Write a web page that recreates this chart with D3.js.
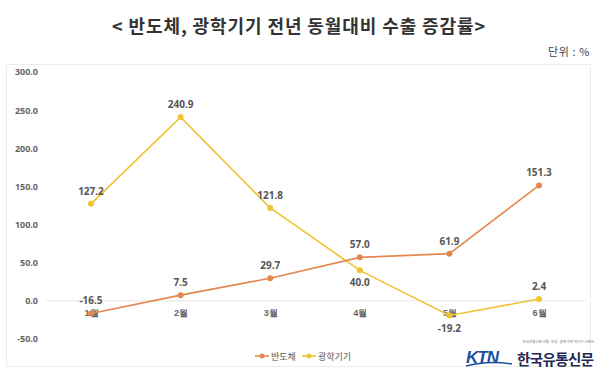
<!DOCTYPE html>
<html><head><meta charset="utf-8">
<script src="https://cdn.jsdelivr.net/npm/d3@7"></script>
<style>body{margin:0;background:#fff;}svg{display:block;font-family:"Noto Sans CJK KR","Noto Sans",sans-serif;}</style>
</head><body>
<script>
const months = ["1월","2월","3월","4월","5월","6월"];
const semiconductor = [-16.5, 7.5, 29.7, 57.0, 61.9, 151.3];
const optical = [127.2, 240.9, 121.8, 40.0, -19.2, 2.4];
const yTicks = [300, 250, 200, 150, 100, 50, 0, -50];
const seriesNames = ["반도체", "광학기기"];
// label placement: 1 = above, -1 = below
const semiPos = [1,1,1,1,1,1];
const optPos = [1,1,1,-1,-1,1];

const W = 600, H = 372;
const svg = d3.select("body").append("svg").attr("width", W).attr("height", H);
const fmt = d => d3.format(".1f")(d).replace("\u2212","-");

svg.append("text").attr("x", 299).attr("y", 33).attr("text-anchor","middle")
  .attr("font-size", 18).attr("font-weight","bold").attr("fill","#333").attr("letter-spacing", 0.9)
  .text("< 반도체, 광학기기 전년 동월대비 수출 증감률>");
svg.append("text").attr("x", 590).attr("y", 56).attr("text-anchor","end")
  .attr("font-size", 11).attr("fill","#444").attr("letter-spacing", 0.6).text("단위 : %");

// chart frame
svg.append("rect").attr("x", 6.5).attr("y", 64.5).attr("width", 584).attr("height", 302)
  .attr("fill","none").attr("stroke","#ececec");

const x = d3.scalePoint().domain(months).range([91, 539]);
const y = d3.scaleLinear().domain([-50, 300]).range([339, 72]);

// y-axis labels
const yAxis = d3.axisLeft(y).tickValues(yTicks).tickFormat(fmt).tickSize(0).tickPadding(0);
const ga = svg.append("g").attr("transform","translate(38,0)").call(yAxis);
ga.select(".domain").remove();
ga.selectAll("text").attr("font-size", 9).attr("font-weight","bold").attr("fill","#666")
  .attr("font-family","'Noto Sans','Noto Sans CJK KR',sans-serif");

// zero line
svg.append("line").attr("x1", 46).attr("x2", 586).attr("y1", y(0)).attr("y2", y(0))
  .attr("stroke","#e6e6e6").attr("stroke-width",1);

// x-axis category labels
const xAxis = d3.axisBottom(x).tickSize(0).tickPadding(0);
const gx = svg.append("g").attr("transform",`translate(0,${y(0)+9})`).call(xAxis);
gx.select(".domain").remove();
gx.selectAll("text").attr("font-size", 9).attr("fill","#666").attr("font-weight","bold");

const series = [
  {name: seriesNames[0], values: semiconductor, color: "#E4874F", pos: semiPos},
  {name: seriesNames[1], values: optical, color: "#F1C232", pos: optPos}
];
const line = d3.line().x((d,i)=>x(months[i])).y(d=>y(d));

series.slice().reverse().forEach(s => {
  svg.append("path").attr("d", line(s.values)).attr("fill","none")
    .attr("stroke", s.color).attr("stroke-width", 1.6);
  svg.selectAll(null).data(s.values).enter().append("circle")
    .attr("cx",(d,i)=>x(months[i])).attr("cy", d=>y(d)).attr("r", 3)
    .attr("fill", s.color);
});
series.forEach(s => {
  svg.selectAll(null).data(s.values).enter().append("text")
    .attr("x",(d,i)=>x(months[i]))
    .attr("y",(d,i)=> s.pos[i] > 0 ? y(d) - 9 : y(d) + 16)
    .attr("text-anchor","middle").attr("font-size", 10).attr("font-weight","bold")
    .attr("fill","#555").attr("font-family","'Noto Sans',sans-serif")
    .text(fmt);
});

// legend
const legendX = [255, 302];
series.forEach((s,i) => {
  const g = svg.append("g").attr("transform",`translate(${legendX[i]},356)`);
  g.append("line").attr("x1",0).attr("x2",14).attr("stroke",s.color).attr("stroke-width",1.6);
  g.append("circle").attr("cx",7).attr("r",2.5).attr("fill",s.color);
  g.append("text").attr("x",16).attr("y",3.5).attr("font-size",9).attr("fill","#555").text(s.name);
});

// logo
const logo = svg.append("g");
logo.append("text").attr("x", 466).attr("y", 363).attr("font-size", 17).attr("font-weight","bold")
  .attr("font-style","italic").attr("fill","#1D4FA3").attr("font-family","'Liberation Sans',Arial,sans-serif")
  .attr("letter-spacing", -1).text("KTN");
logo.append("path").attr("d","M466,366 Q488,360 512,364").attr("fill","none").attr("stroke","#1D4FA3").attr("stroke-width",1.5);
logo.append("text").attr("x", 517).attr("y", 365).attr("font-size", 14.5).attr("font-weight","bold")
  .attr("fill","#1E2A55").attr("letter-spacing",-0.6).text("한국유통신문");
logo.append("text").attr("x", 594).attr("y", 343).attr("text-anchor","end").attr("font-size", 3.5)
  .attr("fill","#777").text("한국유통신문 유통·산업·경제 전문 미디어 신문사");
</script>
</body></html>
